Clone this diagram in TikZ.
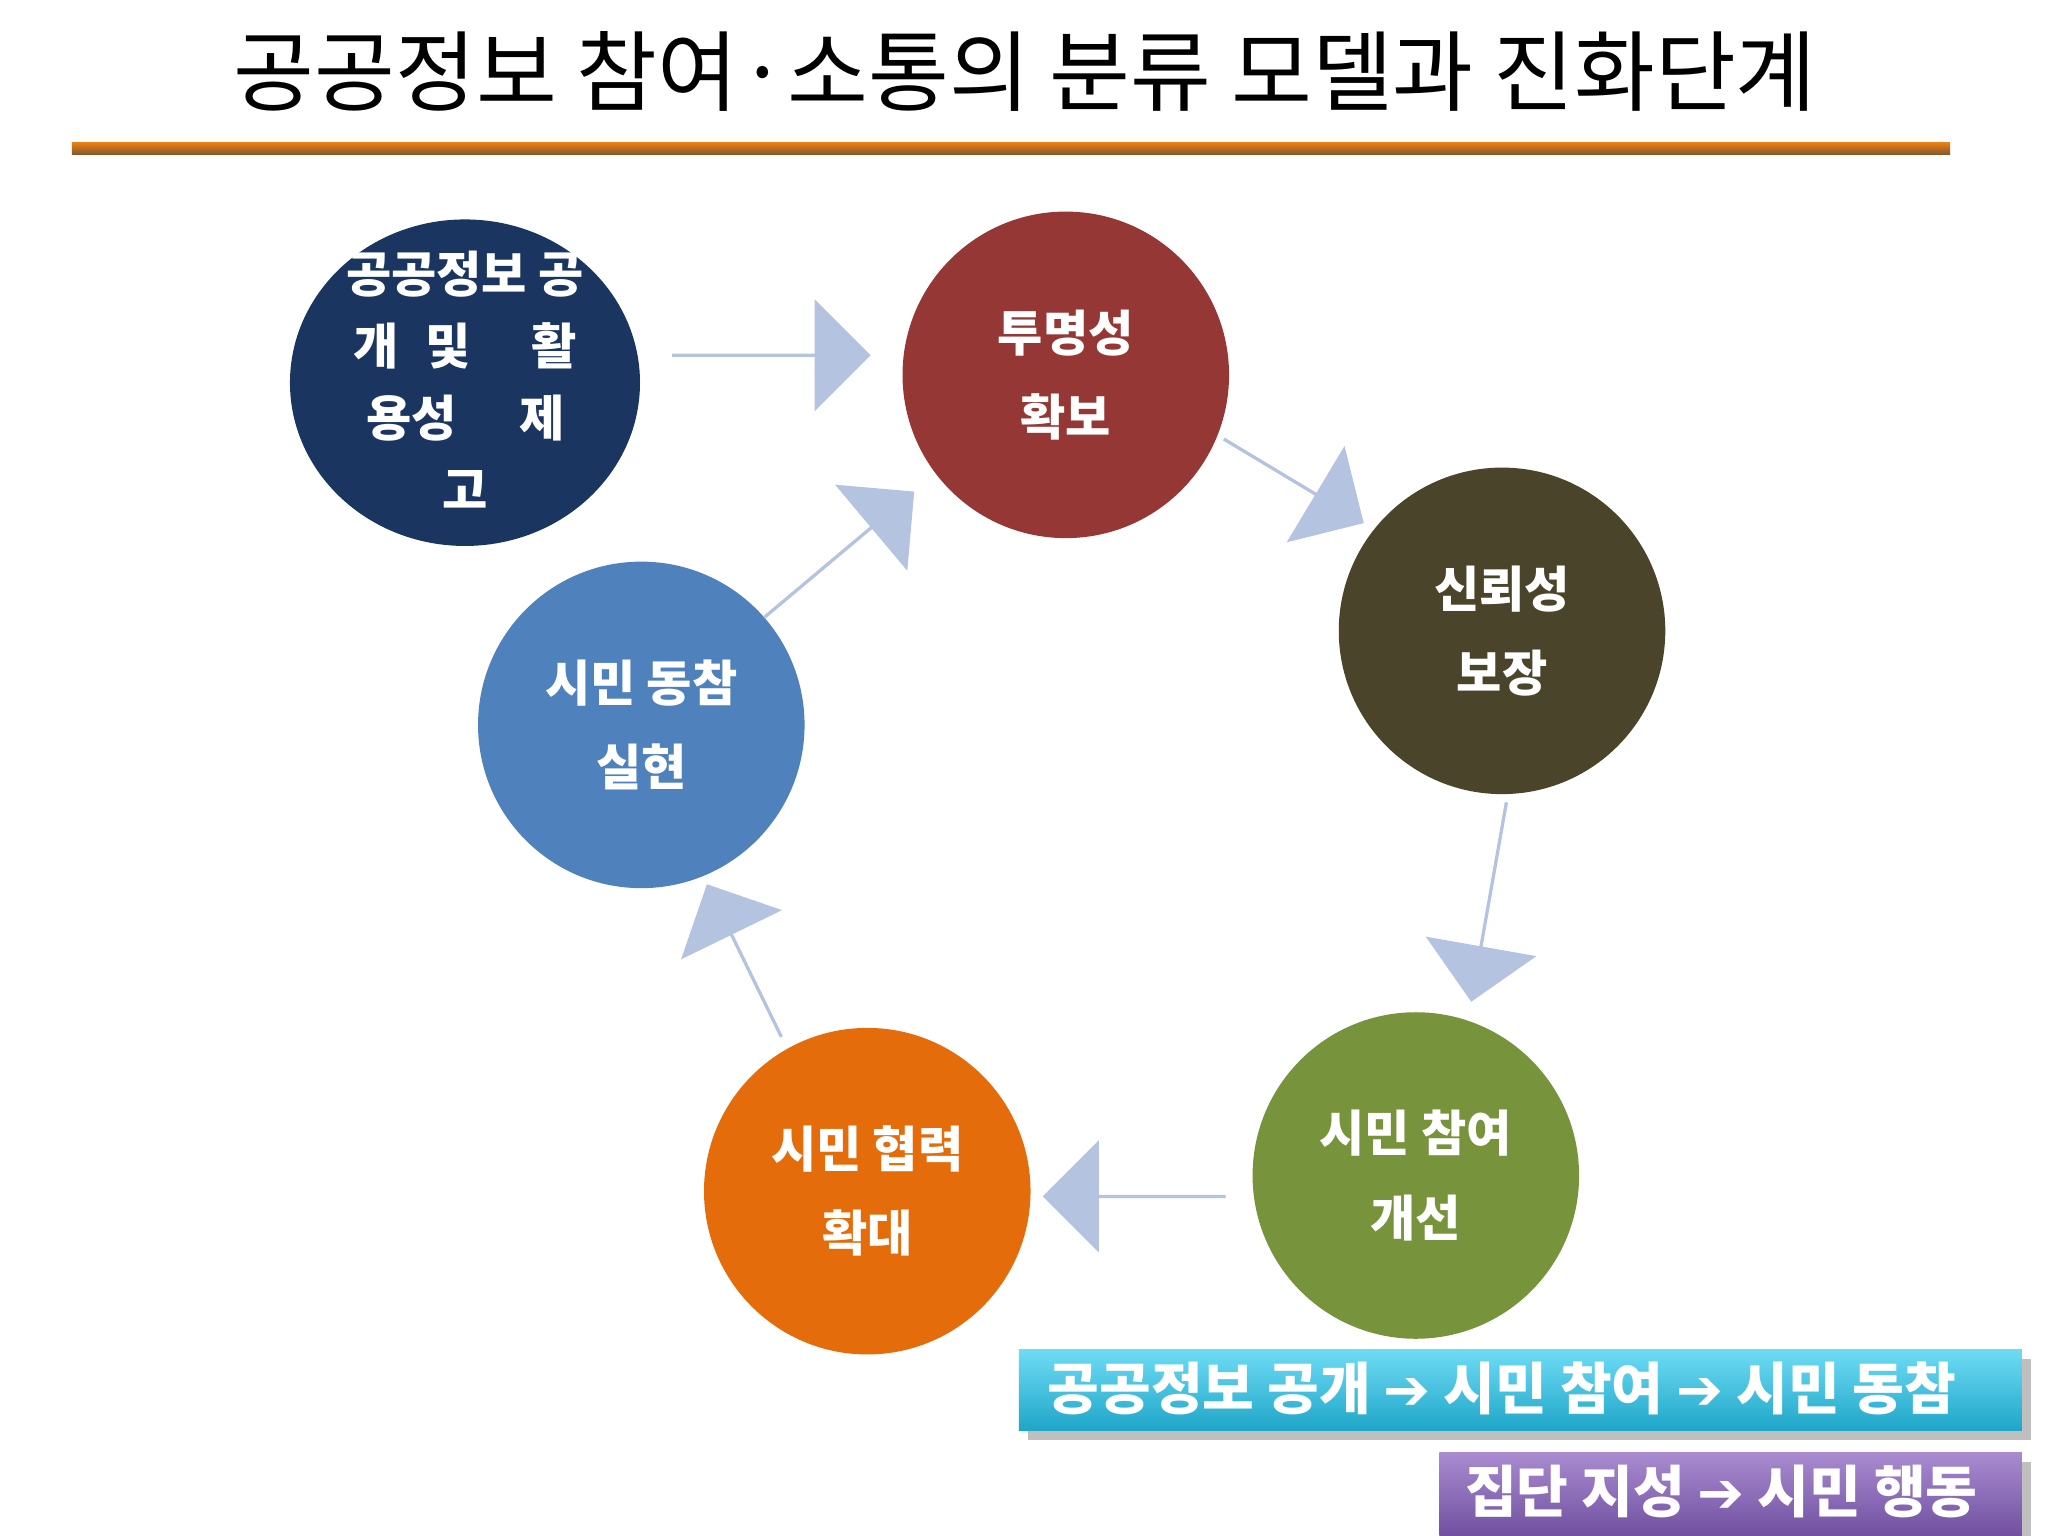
\documentclass[tikz,border=0pt]{standalone}
\usepackage{fontspec}
\setmainfont{Noto Sans CJK KR}
\newfontfamily\symf{DejaVu Sans}
\usetikzlibrary{shapes.arrows,shapes.geometric,shadows}
\definecolor{arrowc}{HTML}{B4C3DF}
\definecolor{cnavy}{HTML}{1A3560}
\definecolor{cred}{HTML}{953735}
\definecolor{colive}{HTML}{4A452A}
\definecolor{cgreen}{HTML}{77933C}
\definecolor{corange}{HTML}{E46C0A}
\definecolor{cblue}{HTML}{4F81BD}
\definecolor{cyt}{HTML}{6FDCF5}
\definecolor{cyb}{HTML}{1FA6C8}
\definecolor{put}{HTML}{A98BD0}
\definecolor{pub}{HTML}{7050A0}
\tikzset{
 circ/.style={circle,minimum size=250*0.01306cm,inner sep=0pt,text=white,font=\fontsize{14}{20}\selectfont\bfseries,align=center},
 ctext/.style={text=white,font=\fontsize{14}{20}\selectfont\bfseries},
 bigarrow/.style={single arrow,fill=arrowc,draw=none,minimum width=86*0.01306cm,single arrow head extend=18*0.01306cm,single arrow tip angle=90,inner sep=0pt},
 btext/.style={text=white,font=\fontsize{16}{18}\selectfont\bfseries}
}
\newcommand{\ar}{{\symf ➔}}
\begin{document}
\begin{tikzpicture}[x=0.01306cm,y=-0.01306cm]
\useasboundingbox (0,0) rectangle (1568,1176);
\fill[white] (0,0) rectangle (1568,1176);
\node (title) at (785,55) {\fontsize{25}{28}\selectfont 공공정보 참여·소통의 분류 모델과 진화단계};
\shade[top color=orange!70!brown,bottom color=brown!70!black] (55,109) rectangle (1493,118);
% circles
\node[ellipse,fill=cnavy,minimum width=268*0.01306cm,minimum height=250*0.01306cm,inner sep=0pt] (c0) at (356,293) {};
\node[ctext] at (356,210) {공공정보 공};
\node[ctext] at (288,265) {개};
\node[ctext] at (343,265) {및};
\node[ctext] at (424,265) {활};
\node[ctext] at (315,320) {용성};
\node[ctext] at (415,320) {제};
\node[ctext] at (356,375) {고};
\node[circ,fill=cred] (c1) at (816,287) {투명성\\[4pt]확보};
\node[circ,fill=colive] (c2) at (1150,483) {신뢰성\\[4pt]보장};
\node[circ,fill=cgreen] (c3) at (1084,900) {시민 참여\\[4pt]개선};
\node[circ,fill=corange] (c4) at (664,912) {시민 협력\\[4pt]확대};
\node[circ,fill=cblue] (c5) at (491,555) {시민 동참\\[4pt]실현};
% arrows
\node[bigarrow,minimum height=152*0.01306cm,rotate=0] (a1) at (590,272) {};
\node[bigarrow,minimum height=125*0.01306cm,rotate=-31] (a2) at (990,368) {};
\node[bigarrow,minimum height=155*0.01306cm,rotate=-100] (a3) at (1140,690) {};
\node[bigarrow,minimum height=140*0.01306cm,rotate=180] (a4) at (869,916) {};
\node[bigarrow,minimum height=130*0.01306cm,rotate=116] (a5) at (570,736) {};
\node[bigarrow,minimum height=150*0.01306cm,rotate=40] (a6) at (642,425) {};
% boxes
\shade[top color=cyt,bottom color=cyb,drop shadow] (780,1033) rectangle (1548,1095);
\node[btext] (b1) at (1150,1063) {공공정보 공개 \ar{} 시민 참여 \ar{} 시민 동참};
\shade[top color=put,bottom color=pub,drop shadow] (1102,1112) rectangle (1548,1176);
\node[btext] (b2) at (1318,1142) {집단 지성 \ar{} 시민 행동};
\end{tikzpicture}
\end{document}
